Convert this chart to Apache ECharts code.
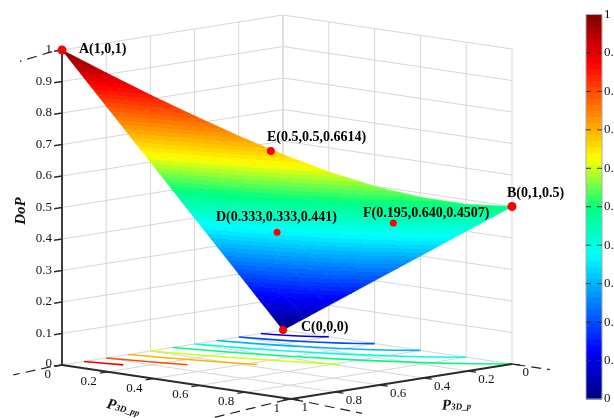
<!DOCTYPE html>
<html><head><meta charset="utf-8">
<style>html,body{margin:0;padding:0;background:#fff}#c{width:614px;height:418px}#c canvas{filter:blur(0.35px)}</style>
<script src="https://cdn.jsdelivr.net/npm/echarts@6/dist/echarts.min.js"></script>
</head><body><div id="c"></div>
<script>
// ---- values ----
const latticeStep = 0.1;
const dopAtPp00 = [0,.1,.2,.3,.4,.5,.6,.7,.8,.9,1];
const dopAtPp01 = [.05,.132,.229,.328,.427,.527,.627,.726,.826,.926];
const dopAtPp02 = [.1,.173,.265,.361,.458,.557,.656,.755,.854];
const dopAtPp03 = [.15,.218,.304,.397,.492,.589,.687,.786];
const dopAtPp04 = [.2,.265,.346,.436,.529,.624,.721];
const dopAtPp05 = [.25,.312,.391,.477,.568,.661];
const dopAtPp06 = [.3,.361,.436,.52,.608];
const dopAtPp07 = [.35,.409,.482,.563];
const dopAtPp08 = [.4,.458,.529];
const dopAtPp09 = [.45,.507];
const dopAtPp10 = [.5];
const dopRows = [dopAtPp00,dopAtPp01,dopAtPp02,dopAtPp03,dopAtPp04,dopAtPp05,dopAtPp06,dopAtPp07,dopAtPp08,dopAtPp09,dopAtPp10];

const contourLevels = [.1,.2,.3,.4,.5,.6,.7,.8,.9];
const contour01 = [[.1,0],[.0885,.04],[.0738,.08],[.0554,.12],[.0321,.16],[.0176,.18],[0,.2]];
const contour02 = [[.2,0],[.177,.08],[.148,.16],[.111,.24],[.064,.32],[.035,.36],[0,.4]];
const contour03 = [[.3,0],[.266,.12],[.221,.24],[.166,.36],[.096,.48],[.053,.54],[0,.6]];
const contour04 = [[.4,0],[.354,.16],[.295,.32],[.222,.48],[.128,.64],[.07,.72],[0,.8]];
const contour05 = [[.5,0],[.442,.2],[.369,.4],[.277,.6],[.161,.8],[.088,.9],[0,1]];
const contour06 = [[.6,0],[.531,.24],[.443,.48],[.383,.617]];
const contour07 = [[.7,0],[.662,.14],[.619,.28],[.566,.434]];
const contour08 = [[.8,0],[.757,.16],[.721,.279]];
const contour09 = [[.9,0],[.877,.09],[.864,.136]];
const contours = [contour01,contour02,contour03,contour04,contour05,contour06,contour07,contour08,contour09];

const pointNames = ['A(1,0,1)','B(0,1,0.5)','C(0,0,0)','D(0.333,0.333,0.441)','E(0.5,0.5,0.6614)','F(0.195,0.640,0.4507)'];
const pointP   = [1,0,0,.4,.536,.195];
const pointPp  = [0,1,0,.36,.464,.67];
const pointDop = [1,.5,0,.394,.678,.434];

const dopTicks = [0,.1,.2,.3,.4,.5,.6,.7,.8,.9,1];
const floorTicks = [0,.2,.4,.6,.8,1];
const wallTicks = [.2,.4,.6,.8];
const barTicks = [.1,.2,.3,.4,.5,.6,.7,.8,.9];

// ---- scene ----
const W = 614, H = 418;
const SERIF = '"Liberation Serif","Times New Roman",serif';
function project(p, pp, z){ return [283 - 221*p + 229*pp, 330 + 35*p + 34*pp - 315*z]; }

const cmapStops = [[0,[0,0,127]],[.125,[0,0,255]],[.375,[0,255,255]],[.5,[0,255,128]],[.625,[255,255,0]],[.875,[255,0,0]],[1,[127,0,0]]];
function cmap(v){
  for(let i=1;i<cmapStops.length;i++){
    if(v<=cmapStops[i][0]){
      const a=cmapStops[i-1],b=cmapStops[i],t=(v-a[0])/(b[0]-a[0]);
      return 'rgb('+a[1].map((c,k)=>Math.round(c+(b[1][k]-c)*t)).join(',')+')';
    }
  }
  return 'rgb(127,0,0)';
}
const BANDS = 64;
function bandColor(v){ const k=Math.min(BANDS-1,Math.floor(v*BANDS)); return cmap((k+.5)/BANDS); }

function triFill(a,b,c){ // a,b,c = [x,y,v] in pixels
  const d=(b[0]-a[0])*(c[1]-a[1])-(c[0]-a[0])*(b[1]-a[1]);
  const gx=((b[2]-a[2])*(c[1]-a[1])-(c[2]-a[2])*(b[1]-a[1]))/d;
  const gy=((c[2]-a[2])*(b[0]-a[0])-(b[2]-a[2])*(c[0]-a[0]))/d;
  const vs=[a,b,c].sort((m,n)=>m[2]-n[2]);
  const lo=vs[0][2],hi=vs[2][2];
  if(hi-lo<1e-6) return bandColor(lo);
  const g2=gx*gx+gy*gy, s=(hi-lo)/g2;
  const stops=[{offset:0,color:bandColor(lo)}];
  const kLo=Math.floor(lo*BANDS), kHi=Math.ceil(hi*BANDS);
  for(let k=kLo+1;k<kHi;k++){
    const t=(k/BANDS-lo)/(hi-lo);
    if(t<=0||t>=1) continue;
    stops.push({offset:t,color:cmap((k-.5)/BANDS)});
    stops.push({offset:t,color:cmap((k+.5)/BANDS)});
  }
  stops.push({offset:1,color:bandColor(hi-1e-6)});
  return new echarts.graphic.LinearGradient(vs[0][0],vs[0][1],vs[0][0]+gx*s,vs[0][1]+gy*s,stops,true);
}

// surface triangles built from the table
const tris=[];
dopRows.forEach((row,j)=>{
  row.forEach((z,i)=>{
    const s=latticeStep;
    if(i+1<row.length && dopRows[j+1] && dopRows[j+1][i]!==undefined){
      tris.push([i*s,j*s,z,(i+1)*s,j*s,row[i+1],i*s,(j+1)*s,dopRows[j+1][i]]);
    }
    if(j>0 && i>0 && dopRows[j-1][i]!==undefined){
      tris.push([i*s,j*s,z,(i-1)*s,j*s,row[i-1],i*s,(j-1)*s,dopRows[j-1][i]]);
    }
  });
});

// wall and floor grid lines
const gridSegs=[];
dopTicks.forEach(z=>{ gridSegs.push([0,0,z,1,0,z]); gridSegs.push([0,0,z,0,1,z]); });
wallTicks.concat([0]).forEach(v=>{ gridSegs.push([v,0,0,v,0,1]); gridSegs.push([0,v,0,0,v,1]); });
gridSegs.push([0,1,0,0,1,1]);
wallTicks.forEach(v=>{ gridSegs.push([v,0,0,v,1,0]); gridSegs.push([0,v,0,1,v,0]); });

const axisSegs=[[1,0,0,1,0,1],[1,0,0,1,1,0],[0,1,0,1,1,0]];
const TICK=8/223.7; // tick length in p/pp units
const tickSegs=[];
dopTicks.forEach(z=>tickSegs.push([1,0,z,1+TICK,0,z]));
floorTicks.forEach(v=>{ tickSegs.push([1,v,0,1+TICK,v,0]); tickSegs.push([v,1,0,v,1+TICK,0]); });
const dashSegs=[[1.045,0,1,1.19,0,.985],[1.05,0,0,1.22,0,-.007],[1.02,1,0,1.35,1,-.02],[1,1.01,0,1,1.31,-.012],[0,1.015,0,0,1.165,0]];

function segSeries(name,segs,color,width,dash){
  return {type:'custom',name,coordinateSystem:'cartesian2d',xAxisIndex:0,yAxisIndex:0,silent:true,clip:false,data:segs,
    renderItem(_,api){
      const a=project(api.value(0),api.value(1),api.value(2)),b=project(api.value(3),api.value(4),api.value(5));
      return {type:'line',shape:{x1:api.coord(a)[0],y1:api.coord(a)[1],x2:api.coord(b)[0],y2:api.coord(b)[1]},
        style:{stroke:color,lineWidth:width,lineDash:dash||null}};
    }};
}
function textSeries(name,items){ // items: [scene x, scene y, text, options]
  return {type:'custom',name,coordinateSystem:'cartesian2d',xAxisIndex:0,yAxisIndex:0,silent:true,clip:false,
    data:items.map((t,i)=>[t[0],t[1],i]),
    renderItem(_,api){
      const t=items[api.value(2)],o=t[3]||{},c=api.coord([api.value(0),api.value(1)]);
      return {type:'text',x:c[0],y:c[1],rotation:o.rot||0,
        style:Object.assign({text:t[2],fill:'#111',font:'13px '+SERIF,textAlign:o.align||'left',align:o.align||'left',
          textVerticalAlign:'middle',verticalAlign:'middle'},o.style||{})};
    }};
}

const labelFont='bold 14px '+SERIF;
const pointLabelAnchor=[[79,49],[507,193],[301,327],[216,217],[267,137],[363,213]];
const pointSizes=[9,9,8,7,8,7];

const dopItems=dopTicks.map(z=>{const q=project(1,0,z);return [q[0]-10,q[1]+(z===0?-1:0),String(z),{align:'right'}];});
const ppItems=floorTicks.map(v=>{const q=project(1,v,0);return [q[0]-11,q[1]+9.5,String(v),{align:'right'}];});
const pItems=floorTicks.map(v=>{const q=project(v,1,0);return [q[0]+10.5,q[1]+8.5,String(v),{align:'left'}];});
const nameItems=pointNames.map((n,i)=>[pointLabelAnchor[i][0],pointLabelAnchor[i][1],n,{style:{font:labelFont,fill:'#000'}}]);
const subRich={a:{font:'bold italic 15px '+SERIF,fill:'#111'},b:{font:'italic bold 9px '+SERIF,fill:'#111',padding:[3,0,0,0]}};
const titleItems=[
  [21,211,'DoP',{align:'center',rot:Math.PI/2,style:{font:'bold italic 15px '+SERIF}}],
  [107,404,'{a|P}{b|3D_pp}',{rot:-0.25,style:{rich:subRich,font:'13px '+SERIF}}],
  [442,406,'{a|P}{b|3D_p}',{rot:0.03,style:{rich:subRich,font:'13px '+SERIF}}]
];

const bandData=[];
for(let k=0;k<BANDS;k++) bandData.push([k/BANDS,(k+1)/BANDS]);

const series=[
  segSeries('grid',gridSegs,'#d6d6d6',1),
  {type:'custom',name:'contours',coordinateSystem:'cartesian2d',xAxisIndex:0,yAxisIndex:0,silent:true,clip:false,
    data:contourLevels.map((l,i)=>[l,i]),
    renderItem(_,api){
      const i=api.value(1);
      return {type:'polyline',shape:{points:contours[i].map(q=>api.coord(project(q[0],q[1],0)))},
        style:{stroke:cmap(api.value(0)),lineWidth:1.6,fill:null}};
    }},
  segSeries('axes',axisSegs,'#2a2a2a',1.8),
  segSeries('ticks',tickSegs,'#2a2a2a',1.3),
  segSeries('dashes',dashSegs,'#222',1.2,[10,6]),
  {type:'custom',name:'surface',coordinateSystem:'cartesian2d',xAxisIndex:0,yAxisIndex:0,silent:true,clip:false,data:tris,
    renderItem(_,api){
      const q=[0,3,6].map(k=>{const c=api.coord(project(api.value(k),api.value(k+1),api.value(k+2)));return [c[0],c[1],api.value(k+2)];});
      const f=triFill(q[0],q[1],q[2]);
      return {type:'polygon',shape:{points:q.map(r=>[r[0],r[1]])},style:{fill:f,stroke:f,lineWidth:.7}};
    }},
  {type:'custom',name:'points',coordinateSystem:'cartesian2d',xAxisIndex:0,yAxisIndex:0,silent:true,clip:false,
    data:pointP.map((p,i)=>[p,pointPp[i],pointDop[i],pointSizes[i]]),
    renderItem(_,api){
      const c=api.coord(project(api.value(0),api.value(1),api.value(2)));
      return {type:'circle',shape:{cx:c[0],cy:c[1],r:api.value(3)/2},style:{fill:'#ff0000'}};
    }},
  textSeries('dopLabels',dopItems),
  textSeries('ppLabels',ppItems),
  textSeries('pLabels',pItems),
  textSeries('pointLabels',nameItems),
  textSeries('titles',titleItems),
  {type:'custom',name:'colorbar',coordinateSystem:'cartesian2d',xAxisIndex:1,yAxisIndex:1,silent:true,data:bandData,
    renderItem(_,api){
      const lo=api.coord([0,api.value(0)]),hi=api.coord([1,api.value(1)]);
      return {type:'rect',shape:{x:lo[0],y:hi[1],width:hi[0]-lo[0],height:lo[1]-hi[1]+.5},
        style:{fill:cmap((api.value(0)+api.value(1))/2)}};
    }},
  {type:'custom',name:'colorbarFrame',coordinateSystem:'cartesian2d',xAxisIndex:1,yAxisIndex:1,silent:true,data:[[0,1]],
    renderItem(_,api){
      const lo=api.coord([0,0]),hi=api.coord([1,1]);
      return {type:'rect',shape:{x:lo[0],y:hi[1],width:hi[0]-lo[0],height:lo[1]-hi[1]},style:{fill:null,stroke:'#aaa',lineWidth:1}};
    }},
  {type:'custom',name:'colorbarTicks',coordinateSystem:'cartesian2d',xAxisIndex:1,yAxisIndex:1,silent:true,data:barTicks.map(v=>[v]),
    renderItem(_,api){
      const a=api.coord([0,api.value(0)]),b=api.coord([1,api.value(0)]);
      const st={stroke:'#333',lineWidth:1};
      return {type:'group',children:[
        {type:'line',shape:{x1:a[0],y1:a[1],x2:a[0]+5,y2:a[1]},style:st},
        {type:'line',shape:{x1:b[0]-5,y1:b[1],x2:b[0],y2:b[1]},style:st}]};
    }}
];

const chart=echarts.init(document.getElementById('c'),null,{renderer:'canvas'});
chart.setOption({
  animation:false,backgroundColor:'#fff',
  grid:[{left:0,top:0,width:W,height:H,containLabel:false,outerBoundsMode:'none'},
        {left:586,top:14.5,width:16,height:384.5,containLabel:false,outerBoundsMode:'none'}],
  xAxis:[{type:'value',gridIndex:0,min:0,max:W,show:false},{type:'value',gridIndex:1,min:0,max:1,show:false}],
  yAxis:[{type:'value',gridIndex:0,min:0,max:H,inverse:true,show:false},
    {type:'value',gridIndex:1,min:0,max:1,interval:.1,position:'right',
     axisLine:{show:false},splitLine:{show:false},axisTick:{show:false},
     axisLabel:{show:true,margin:2,color:'#111',fontFamily:SERIF,fontSize:13,
       formatter:v=>String(Math.round(v*10)/10),showMinLabel:true,showMaxLabel:true,hideOverlap:false}}],
  series
});
</script></body></html>
